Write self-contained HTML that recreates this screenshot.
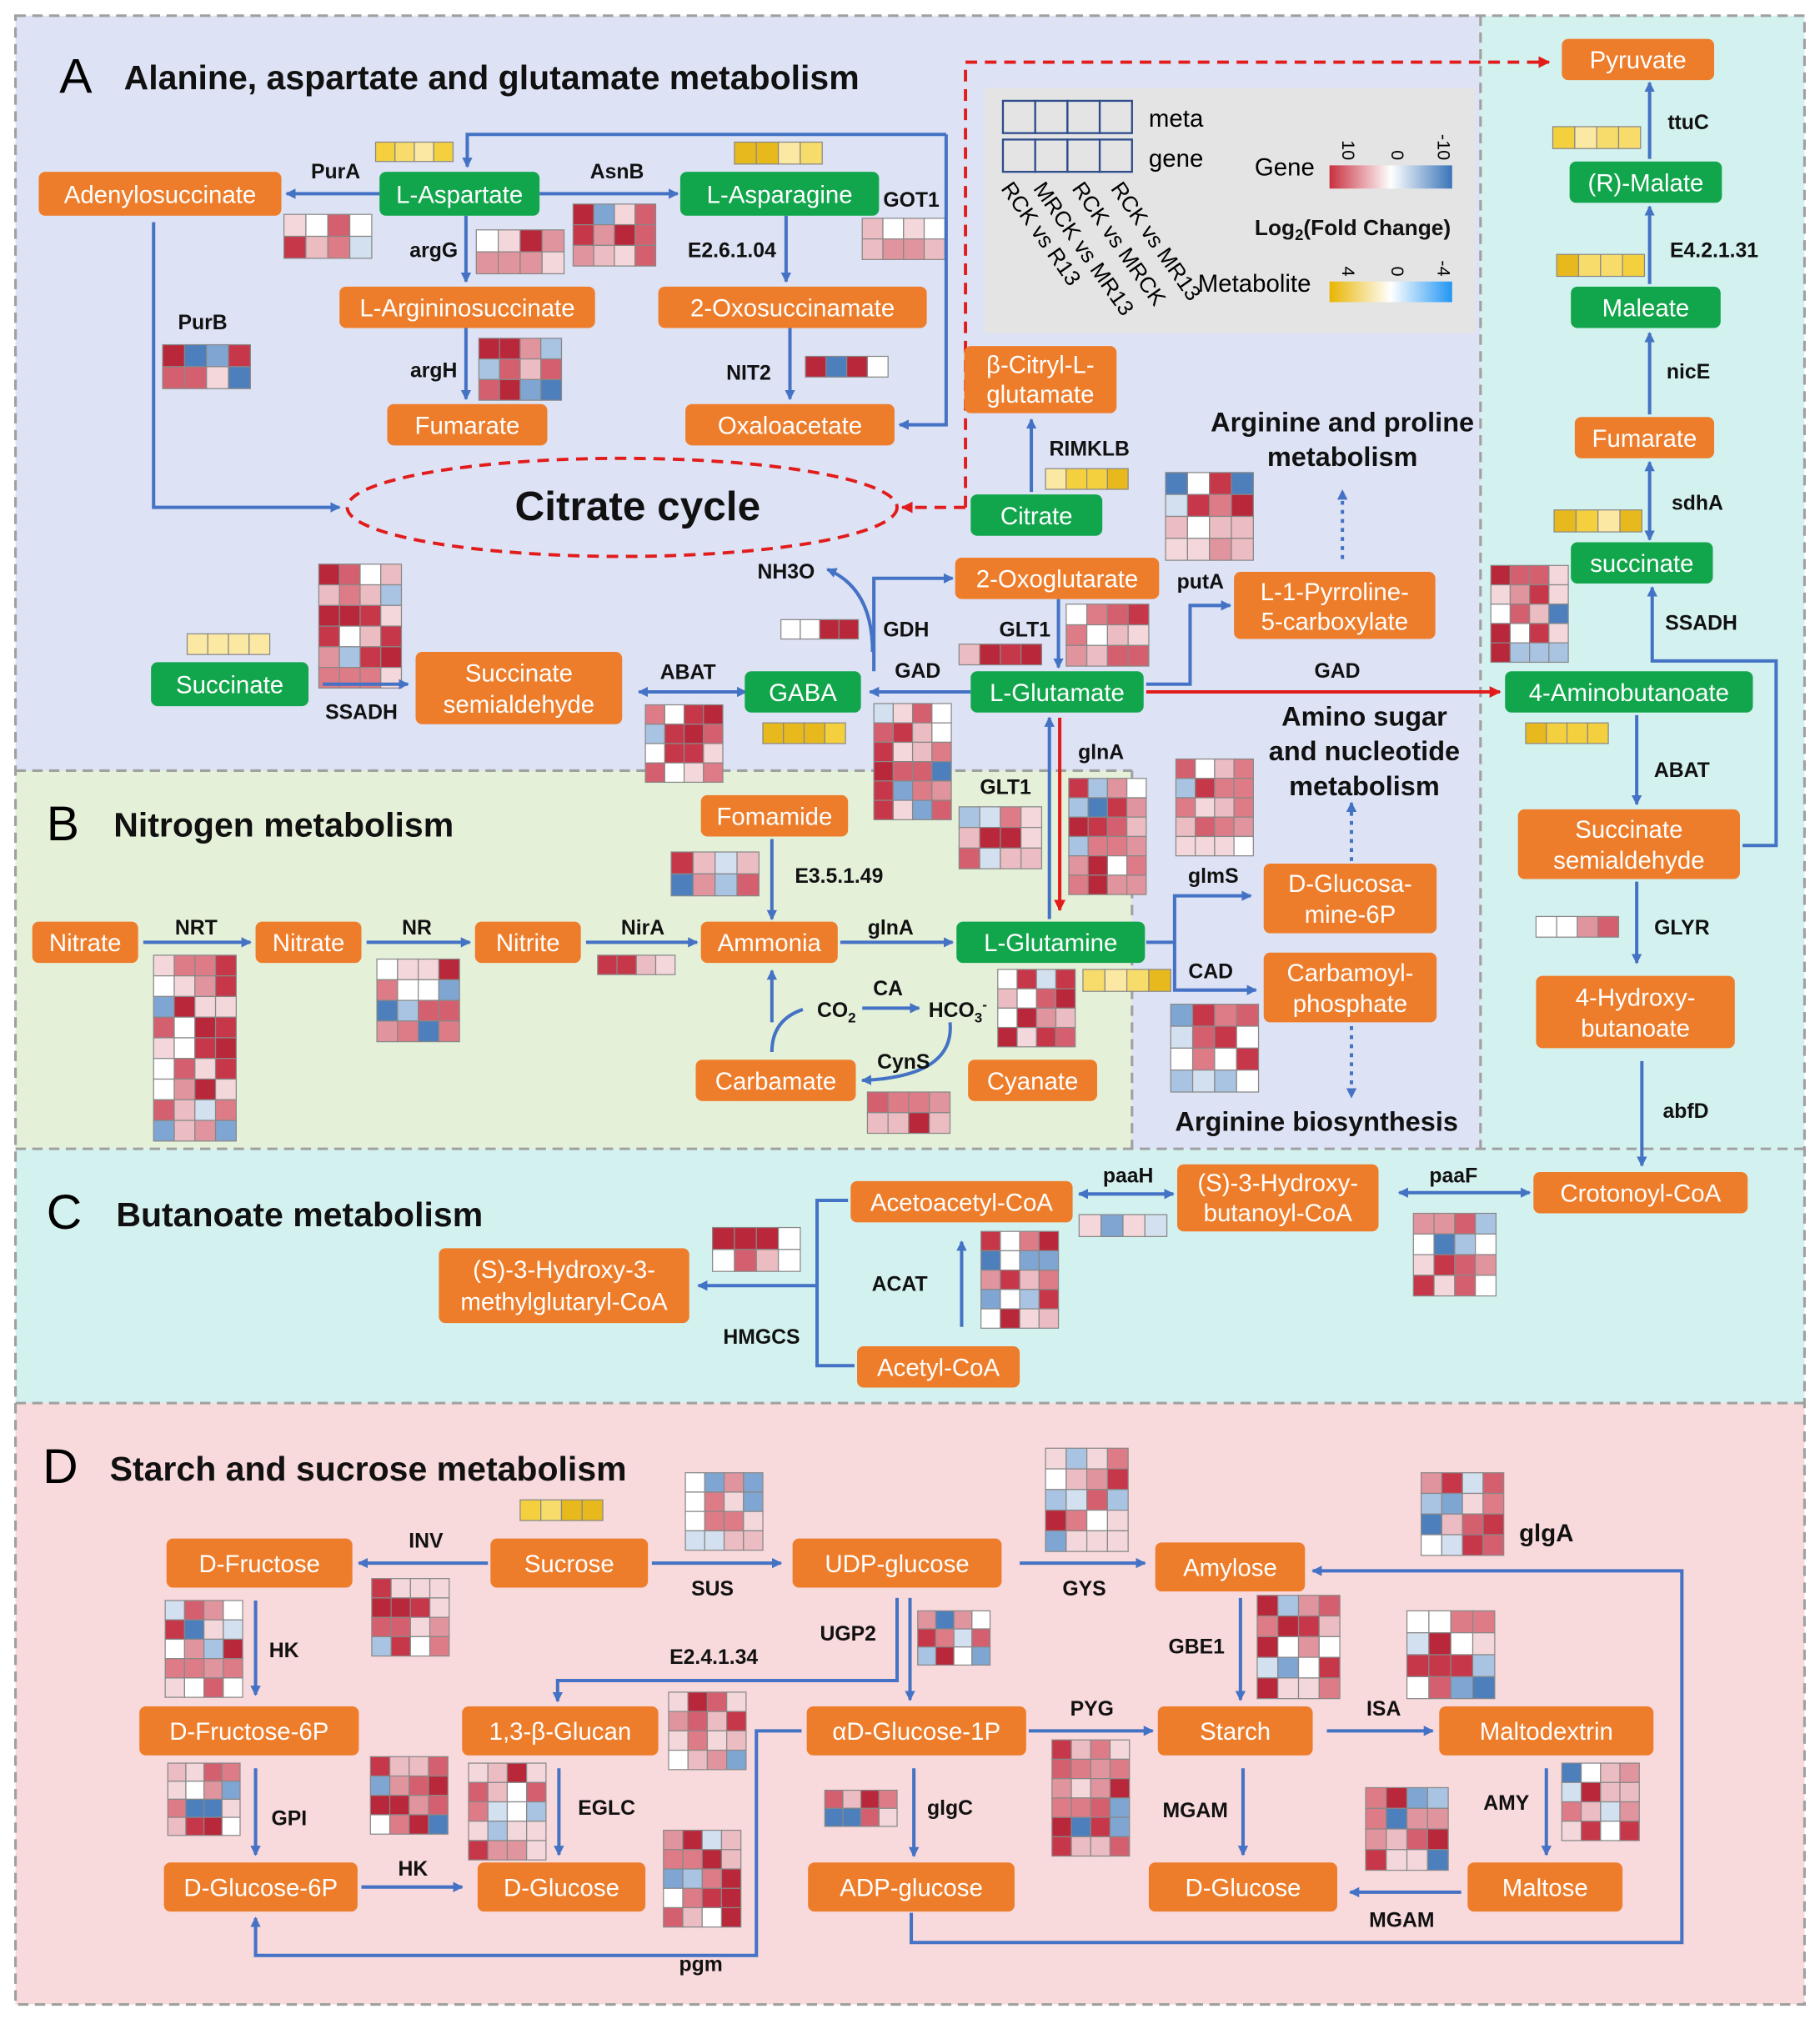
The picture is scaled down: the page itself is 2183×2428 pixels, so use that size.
<!DOCTYPE html>
<html><head><meta charset="utf-8"><style>
html,body{margin:0;padding:0;background:#fff}
svg{display:block}
text{font-family:"Liberation Sans",Arial,sans-serif}
.n text,.nt{fill:#fff;font-size:19px;text-anchor:middle}
.l{font-size:16px;font-weight:bold;fill:#111;text-anchor:middle}
.t{font-weight:bold;fill:#111}
.a{stroke:#4472c4;stroke-width:2.6;fill:none;marker-end:url(#ah)}
.b{stroke:#4472c4;stroke-width:2.6;fill:none}
</style></head><body>
<svg id="s" width="2183" height="2428" viewBox="0 0 1410 1568" xmlns="http://www.w3.org/2000/svg">
<defs>
<marker id="ah" markerWidth="8" markerHeight="8" refX="7" refY="4" orient="auto" markerUnits="userSpaceOnUse"><path d="M0,0 L8,4 L0,8 z" fill="#4472c4"/></marker>
<marker id="as" markerWidth="8" markerHeight="8" refX="1" refY="4" orient="auto" markerUnits="userSpaceOnUse"><path d="M8,0 L0,4 L8,8 z" fill="#4472c4"/></marker>
<marker id="ar" markerWidth="9" markerHeight="9" refX="8" refY="4.5" orient="auto" markerUnits="userSpaceOnUse"><path d="M0,0 L9,4.5 L0,9 z" fill="#e21b1b"/></marker>
<linearGradient id="gg" x1="0" x2="1"><stop offset="0" stop-color="#c8303f"/><stop offset=".5" stop-color="#fff"/><stop offset="1" stop-color="#3a74b8"/></linearGradient>
<linearGradient id="gm" x1="0" x2="1"><stop offset="0" stop-color="#e8b400"/><stop offset=".5" stop-color="#fff"/><stop offset="1" stop-color="#2196f3"/></linearGradient>
</defs>
<rect x="12" y="12" width="1386" height="1541" fill="#fff"/>
<rect x="12" y="12" width="1135" height="878" fill="#dde2f4"/>
<rect x="12" y="597" width="865" height="293" fill="#e4f0d8"/>
<rect x="1147" y="12" width="251" height="878" fill="#d3f1ef"/>
<rect x="12" y="890" width="1386" height="197" fill="#d3f1ef"/>
<rect x="12" y="1087" width="1386" height="466" fill="#f8d9dc"/>
<g stroke="#a0a0a0" stroke-width="2" stroke-dasharray="8,5" fill="none">
<rect x="12" y="12" width="1386" height="1541"/>
<line x1="12" y1="1087" x2="1398" y2="1087"/>
<line x1="12" y1="890" x2="1398" y2="890"/>
<line x1="1147" y1="12" x2="1147" y2="890"/>
<line x1="12" y1="597" x2="877" y2="597"/>
<line x1="877" y1="597" x2="877" y2="890"/>
</g>
<rect x="763" y="68" width="380" height="190" fill="#e4e4e4"/>
<g stroke="#2e4d8a" stroke-width="1.5" fill="#e4e4e4">
<rect x="777" y="78" width="25" height="25"/><rect x="802" y="78" width="25" height="25"/><rect x="827" y="78" width="25" height="25"/><rect x="852" y="78" width="25" height="25"/>
<rect x="777" y="108" width="25" height="25"/><rect x="802" y="108" width="25" height="25"/><rect x="827" y="108" width="25" height="25"/><rect x="852" y="108" width="25" height="25"/>
</g>
<text x="890" y="98" font-size="19">meta</text>
<text x="890" y="129" font-size="19">gene</text>
<g font-size="17">
<text transform="translate(775,146) rotate(55)">RCK vs R13</text>
<text transform="translate(800,146) rotate(55)">MRCK vs MR13</text>
<text transform="translate(830,146) rotate(55)">RCK vs MRCK</text>
<text transform="translate(860,146) rotate(55)">RCK vs MR13</text>
</g>
<text x="972" y="136" font-size="19">Gene</text>
<rect x="1030" y="128" width="95" height="18" fill="url(#gg)"/>
<g font-size="14"><text transform="translate(1040,124) rotate(90)" text-anchor="end">10</text><text transform="translate(1078,124) rotate(90)" text-anchor="end">0</text><text transform="translate(1114,124) rotate(90)" text-anchor="end">-10</text></g>
<text x="972" y="182" font-size="17" class="t">Log<tspan font-size="12" dy="4">2</tspan><tspan dy="-4">(Fold Change)</tspan></text>
<text x="928" y="226" font-size="19">Metabolite</text>
<rect x="1030" y="218" width="95" height="16" fill="url(#gm)"/>
<g font-size="14"><text transform="translate(1040,214) rotate(90)" text-anchor="end">4</text><text transform="translate(1078,214) rotate(90)" text-anchor="end">0</text><text transform="translate(1114,214) rotate(90)" text-anchor="end">-4</text></g>
<g id="hm"></g>
<text x="46" y="72" font-size="38">A</text><text x="96" y="69" font-size="26.5" class="t">Alanine, aspartate and glutamate metabolism</text>
<text x="36" y="651" font-size="38">B</text><text x="88" y="648" font-size="26.5" class="t">Nitrogen metabolism</text>
<text x="36" y="952" font-size="38">C</text><text x="90" y="950" font-size="26.5" class="t">Butanoate metabolism</text>
<text x="33" y="1149" font-size="38">D</text><text x="85" y="1147" font-size="26.5" class="t">Starch and sucrose metabolism</text>
<text x="494" y="403" font-size="32" class="t" text-anchor="middle">Citrate cycle</text>
<g font-size="21" class="t" text-anchor="middle">
<text x="1040" y="334">Arginine and proline</text><text x="1040" y="361">metabolism</text>
<text x="1057" y="562">Amino sugar</text><text x="1057" y="589">and nucleotide</text><text x="1057" y="616">metabolism</text>
<text x="1020" y="876">Arginine biosynthesis</text>
</g>
<ellipse cx="482" cy="393" rx="213" ry="38" fill="none" stroke="#e21b1b" stroke-width="2.5" stroke-dasharray="9,6"/>
<path d="M748,393 V48 H1200" fill="none" stroke="#e21b1b" stroke-width="2.5" stroke-dasharray="9,6" marker-end="url(#ar)"/>
<path d="M748,393 H699" fill="none" stroke="#e21b1b" stroke-width="2.5" stroke-dasharray="9,6" marker-end="url(#ar)"/>
<path d="M888,536 H1162" fill="none" stroke="#e21b1b" stroke-width="2.6" marker-end="url(#ar)"/>
<path d="M821,556 V705" fill="none" stroke="#e21b1b" stroke-width="2.6" marker-end="url(#ar)"/>
<path class="a" d="M294,150 H222"/><path class="a" d="M418,150 H525"/>
<path class="a" d="M361,167 V218"/><path class="a" d="M609,167 V218"/>
<path class="a" d="M361,254 V309"/><path class="a" d="M612,254 V309"/>
<path class="a" d="M119,172 V393 H263"/>
<path class="a" d="M733,104 V329 H697"/><path class="a" d="M733,104 H362 V129"/>
<path class="a" d="M799,381 V325"/>
<path class="b" d="M578,536 H495" marker-end="url(#ah)" marker-start="url(#as)"/>
<path class="a" d="M250,530 H316"/>
<path class="a" d="M752,536 H674"/>
<path class="a" d="M677,520 V448 H738"/>
<path class="a" d="M676,505 Q676,456 641,441"/>
<path class="a" d="M820,464 V517"/>
<path class="a" d="M888,530 H922 V469 H953"/>
<path class="a" d="M1040,433 V380" stroke-dasharray="3,4"/>
<path class="a" d="M813,712 V556"/>
<path class="a" d="M888,730 H910 V694 H969"/><path class="a" d="M910,730 V767 H973"/>
<path class="a" d="M1047,667 V622" stroke-dasharray="3,4"/><path class="a" d="M1047,795 V850" stroke-dasharray="3,4"/>
<path class="b" d="M1278,418 V358" marker-end="url(#ah)" marker-start="url(#as)"/>
<path class="a" d="M1278,321 V258"/><path class="a" d="M1278,220 V160"/><path class="a" d="M1278,123 V64"/>
<path class="a" d="M1268,554 V623"/>
<path class="a" d="M1350,655 H1376 V512 H1280 V455"/>
<path class="a" d="M1268,683 V746"/><path class="a" d="M1272,822 V903"/>
<path class="b" d="M1185,924 H1084" marker-end="url(#ah)" marker-start="url(#as)"/>
<path class="b" d="M909,925 H836" marker-end="url(#ah)" marker-start="url(#as)"/>
<path class="a" d="M745,1028 V962"/>
<path class="b" d="M657,930 H633 V1058 H662"/><path class="a" d="M633,996 H541"/>
<path class="a" d="M111,730 H194"/><path class="a" d="M284,730 H364"/><path class="a" d="M454,730 H540"/>
<path class="a" d="M598,650 V712"/><path class="a" d="M651,730 H738"/>
<path class="a" d="M668,781 H712"/>
<path class="b" d="M622,782 Q598,790 598,815"/><path class="a" d="M598,792 V752"/>
<path class="a" d="M736,792 Q740,834 668,837"/>
<path class="a" d="M378,1211 H278"/><path class="a" d="M505,1211 H605"/><path class="a" d="M790,1211 H887"/>
<path class="a" d="M198,1240 V1313"/><path class="a" d="M198,1370 V1437"/><path class="a" d="M280,1462 H358"/>
<path class="a" d="M433,1370 V1437"/>
<path class="a" d="M695,1238 V1302 H432 V1318"/><path class="a" d="M705,1238 V1317"/>
<path class="a" d="M708,1370 V1438"/><path class="a" d="M797,1341 H893"/>
<path class="a" d="M961,1238 V1317"/><path class="a" d="M1028,1341 H1110"/>
<path class="a" d="M963,1370 V1437"/><path class="a" d="M1198,1370 V1437"/><path class="a" d="M1132,1466 H1046"/>
<path class="a" d="M706,1482 V1505 H1303 V1217 H1017"/>
<path class="a" d="M621,1341 H586 V1515 H198 V1486"/>
<g class="l">
<text x="260" y="138">PurA</text><text x="478" y="138">AsnB</text><text x="336" y="199">argG</text><text x="567" y="199">E2.6.1.04</text>
<text x="706" y="160">GOT1</text><text x="157" y="255">PurB</text><text x="336" y="292">argH</text><text x="580" y="294">NIT2</text>
<text x="844" y="353">RIMKLB</text><text x="609" y="448">NH3O</text><text x="702" y="493">GDH</text><text x="711" y="525">GAD</text>
<text x="794" y="493">GLT1</text><text x="930" y="456">putA</text><text x="1036" y="525">GAD</text><text x="533" y="526">ABAT</text>
<text x="280" y="557">SSADH</text><text x="853" y="588">glnA</text><text x="779" y="615">GLT1</text><text x="940" y="684">glmS</text><text x="938" y="758">CAD</text>
<text x="1308" y="100">ttuC</text><text x="1328" y="199">E4.2.1.31</text><text x="1308" y="293">nicE</text><text x="1315" y="395">sdhA</text>
<text x="1318" y="488">SSADH</text><text x="1303" y="602">ABAT</text><text x="1303" y="724">GLYR</text><text x="1306" y="866">abfD</text>
<text x="1126" y="916">paaF</text><text x="874" y="916">paaH</text><text x="697" y="1000">ACAT</text><text x="590" y="1041">HMGCS</text>
<text x="152" y="724">NRT</text><text x="323" y="724">NR</text><text x="498" y="724">NirA</text><text x="650" y="684">E3.5.1.49</text>
<text x="690" y="724">glnA</text><text x="688" y="771">CA</text><text x="700" y="828">CynS</text>
<text x="330" y="1199">INV</text><text x="552" y="1236">SUS</text><text x="840" y="1236">GYS</text><text x="220" y="1284">HK</text>
<text x="224" y="1414">GPI</text><text x="320" y="1453">HK</text><text x="470" y="1406">EGLC</text><text x="553" y="1289">E2.4.1.34</text>
<text x="657" y="1271">UGP2</text><text x="736" y="1406">glgC</text><text x="846" y="1329">PYG</text><text x="927" y="1281">GBE1</text>
<text x="1072" y="1329">ISA</text><text x="926" y="1408">MGAM</text><text x="1167" y="1402">AMY</text><text x="1086" y="1493">MGAM</text>
<text x="543" y="1527">pgm</text><text x="1198" y="1194" font-size="19">glgA</text>
<text x="648" y="788">CO<tspan font-size="11" dy="4">2</tspan></text><text x="742" y="788">HCO<tspan font-size="11" dy="4">3</tspan><tspan font-size="11" dy="-10">-</tspan></text>
</g>
<g class="n">
<rect x="30" y="133" width="188" height="34" rx="5" fill="#ee7d2b"/><text x="124" y="157">Adenylosuccinate</text>
<rect x="294" y="133" width="124" height="34" rx="5" fill="#12a64c"/><text x="356" y="157">L-Aspartate</text>
<rect x="527" y="133" width="154" height="34" rx="5" fill="#12a64c"/><text x="604" y="157">L-Asparagine</text>
<rect x="263" y="222" width="198" height="32" rx="5" fill="#ee7d2b"/><text x="362" y="245">L-Argininosuccinate</text>
<rect x="510" y="222" width="208" height="32" rx="5" fill="#ee7d2b"/><text x="614" y="245">2-Oxosuccinamate</text>
<rect x="300" y="313" width="124" height="32" rx="5" fill="#ee7d2b"/><text x="362" y="336">Fumarate</text>
<rect x="531" y="313" width="162" height="32" rx="5" fill="#ee7d2b"/><text x="612" y="336">Oxaloacetate</text>
<rect x="747" y="268" width="118" height="52" rx="5" fill="#ee7d2b"/><text x="806" y="289">β-Citryl-L-</text><text x="806" y="312">glutamate</text>
<rect x="752" y="383" width="102" height="32" rx="5" fill="#12a64c"/><text x="803" y="406">Citrate</text>
<rect x="740" y="432" width="158" height="32" rx="5" fill="#ee7d2b"/><text x="819" y="455">2-Oxoglutarate</text>
<rect x="956" y="443" width="156" height="52" rx="5" fill="#ee7d2b"/><text x="1034" y="465">L-1-Pyrroline-</text><text x="1034" y="488">5-carboxylate</text>
<rect x="117" y="513" width="122" height="34" rx="5" fill="#12a64c"/><text x="178" y="537">Succinate</text>
<rect x="322" y="505" width="160" height="56" rx="5" fill="#ee7d2b"/><text x="402" y="528">Succinate</text><text x="402" y="552">semialdehyde</text>
<rect x="577" y="520" width="90" height="32" rx="5" fill="#12a64c"/><text x="622" y="543">GABA</text>
<rect x="752" y="520" width="134" height="32" rx="5" fill="#12a64c"/><text x="819" y="543">L-Glutamate</text>
<rect x="1166" y="520" width="192" height="32" rx="5" fill="#12a64c"/><text x="1262" y="543">4-Aminobutanoate</text>
<rect x="1210" y="30" width="118" height="32" rx="5" fill="#ee7d2b"/><text x="1269" y="53">Pyruvate</text>
<rect x="1216" y="125" width="118" height="32" rx="5" fill="#12a64c"/><text x="1275" y="148">(R)-Malate</text>
<rect x="1217" y="222" width="116" height="32" rx="5" fill="#12a64c"/><text x="1275" y="245">Maleate</text>
<rect x="1220" y="323" width="108" height="32" rx="5" fill="#ee7d2b"/><text x="1274" y="346">Fumarate</text>
<rect x="1217" y="420" width="110" height="32" rx="5" fill="#12a64c"/><text x="1272" y="443">succinate</text>
<rect x="1176" y="627" width="172" height="54" rx="5" fill="#ee7d2b"/><text x="1262" y="649">Succinate</text><text x="1262" y="673">semialdehyde</text>
<rect x="1190" y="756" width="154" height="56" rx="5" fill="#ee7d2b"/><text x="1267" y="779">4-Hydroxy-</text><text x="1267" y="803">butanoate</text>
<rect x="1188" y="908" width="166" height="32" rx="5" fill="#ee7d2b"/><text x="1271" y="931">Crotonoyl-CoA</text>
<rect x="25" y="714" width="82" height="32" rx="5" fill="#ee7d2b"/><text x="66" y="737">Nitrate</text>
<rect x="198" y="714" width="82" height="32" rx="5" fill="#ee7d2b"/><text x="239" y="737">Nitrate</text>
<rect x="368" y="714" width="82" height="32" rx="5" fill="#ee7d2b"/><text x="409" y="737">Nitrite</text>
<rect x="543" y="616" width="114" height="32" rx="5" fill="#ee7d2b"/><text x="600" y="639">Fomamide</text>
<rect x="543" y="714" width="106" height="32" rx="5" fill="#ee7d2b"/><text x="596" y="737">Ammonia</text>
<rect x="741" y="714" width="146" height="32" rx="5" fill="#12a64c"/><text x="814" y="737">L-Glutamine</text>
<rect x="979" y="669" width="134" height="54" rx="5" fill="#ee7d2b"/><text x="1046" y="691">D-Glucosa-</text><text x="1046" y="715">mine-6P</text>
<rect x="979" y="738" width="134" height="54" rx="5" fill="#ee7d2b"/><text x="1046" y="760">Carbamoyl-</text><text x="1046" y="784">phosphate</text>
<rect x="539" y="821" width="124" height="32" rx="5" fill="#ee7d2b"/><text x="601" y="844">Carbamate</text>
<rect x="750" y="821" width="100" height="32" rx="5" fill="#ee7d2b"/><text x="800" y="844">Cyanate</text>
<rect x="659" y="915" width="172" height="32" rx="5" fill="#ee7d2b"/><text x="745" y="938">Acetoacetyl-CoA</text>
<rect x="912" y="902" width="156" height="52" rx="5" fill="#ee7d2b"/><text x="990" y="923">(S)-3-Hydroxy-</text><text x="990" y="946">butanoyl-CoA</text>
<rect x="340" y="967" width="194" height="58" rx="5" fill="#ee7d2b"/><text x="437" y="990">(S)-3-Hydroxy-3-</text><text x="437" y="1015">methylglutaryl-CoA</text>
<rect x="664" y="1043" width="126" height="32" rx="5" fill="#ee7d2b"/><text x="727" y="1066">Acetyl-CoA</text>
<rect x="129" y="1192" width="144" height="38" rx="5" fill="#ee7d2b"/><text x="201" y="1218">D-Fructose</text>
<rect x="380" y="1192" width="122" height="38" rx="5" fill="#ee7d2b"/><text x="441" y="1218">Sucrose</text>
<rect x="614" y="1192" width="162" height="38" rx="5" fill="#ee7d2b"/><text x="695" y="1218">UDP-glucose</text>
<rect x="895" y="1195" width="116" height="38" rx="5" fill="#ee7d2b"/><text x="953" y="1221">Amylose</text>
<rect x="108" y="1322" width="170" height="38" rx="5" fill="#ee7d2b"/><text x="193" y="1348">D-Fructose-6P</text>
<rect x="358" y="1322" width="152" height="38" rx="5" fill="#ee7d2b"/><text x="434" y="1348">1,3-β-Glucan</text>
<rect x="625" y="1322" width="170" height="38" rx="5" fill="#ee7d2b"/><text x="710" y="1348">αD-Glucose-1P</text>
<rect x="897" y="1322" width="120" height="38" rx="5" fill="#ee7d2b"/><text x="957" y="1348">Starch</text>
<rect x="1115" y="1322" width="166" height="38" rx="5" fill="#ee7d2b"/><text x="1198" y="1348">Maltodextrin</text>
<rect x="127" y="1443" width="150" height="38" rx="5" fill="#ee7d2b"/><text x="202" y="1469">D-Glucose-6P</text>
<rect x="370" y="1443" width="130" height="38" rx="5" fill="#ee7d2b"/><text x="435" y="1469">D-Glucose</text>
<rect x="626" y="1443" width="160" height="38" rx="5" fill="#ee7d2b"/><text x="706" y="1469">ADP-glucose</text>
<rect x="890" y="1443" width="146" height="38" rx="5" fill="#ee7d2b"/><text x="963" y="1469">D-Glucose</text>
<rect x="1137" y="1443" width="120" height="38" rx="5" fill="#ee7d2b"/><text x="1197" y="1469">Maltose</text>
</g>
</svg>
<script>
(function(){
var seed=7;function r(){seed=(seed*16807)%2147483647;return (seed-1)/2147483646;}
var reds=['#c7374a','#d4606f','#e0949d','#ebbcc2','#f3d7db','#ffffff','#dd7c87','#b9273a'];
var blues=['#a9c4e2','#7fa6d3','#d3e0ef','#4e7fbd'];
var yel=['#f4d03f','#fbe8a2','#e8b91c','#f7dc6b'];
function hm(x,y,c,rw,cs,type){
 var s='';
 for(var i=0;i<rw;i++)for(var j=0;j<c;j++){
  var col;
  if(type=='y'){col=yel[Math.floor(r()*yel.length)];}
  else{var q=r();col=q<0.15?blues[Math.floor(r()*4)]:reds[Math.floor(r()*reds.length)];}
  s+='<rect x="'+(x+j*cs)+'" y="'+(y+i*cs)+'" width="'+cs+'" height="'+cs+'" fill="'+col+'" stroke="#888" stroke-width="0.8"/>';
 }
 return s;
}
var L=[
[291,110,4,1,15,'y'],[569,110,4,1,17,'y'],[220,166,4,2,17],[369,178,4,2,17],[444,158,4,3,16],[668,169,4,2,16],
[126,267,4,2,17],[371,262,4,3,16],[624,276,4,1,16],[810,363,4,1,16,'y'],[903,366,4,4,17],
[1203,98,4,1,17,'y'],[1206,197,4,1,17,'y'],[1204,395,4,1,17,'y'],[1155,438,4,5,15],
[247,437,4,6,16],[145,491,4,1,16,'y'],[605,480,4,1,15],[743,499,4,1,16],[826,468,4,3,16],
[500,546,4,4,15],[591,560,4,1,16,'y'],[677,545,4,6,15],[743,625,4,3,16],[828,603,4,6,15],[911,588,4,5,15],
[1182,560,4,1,16,'y'],[1190,710,4,1,16],
[520,660,4,2,17],[119,740,4,9,16],[292,743,4,4,16],[463,740,4,1,15],[773,751,4,4,15],[839,751,4,1,17,'y'],[907,778,4,4,17],[672,846,4,2,16],
[552,951,4,2,17],[836,941,4,1,17],[760,954,4,5,15],[1095,940,4,4,16],
[403,1162,4,1,16,'y'],[531,1141,4,4,15],[810,1122,4,5,16],[1101,1141,4,4,16],[288,1223,4,4,15],[128,1240,4,5,15],
[711,1248,4,3,14],[974,1236,4,5,16],[1090,1248,4,4,17],[518,1311,4,4,15],[130,1366,4,4,14],[287,1361,4,4,15],
[363,1366,4,5,15],[639,1387,4,2,14],[815,1348,4,6,15],[1210,1366,4,4,15],[1058,1385,4,4,16],[514,1418,4,5,15]
];
var out='';L.forEach(function(a){out+=hm(a[0],a[1],a[2],a[3],a[4],a[5]);});
document.getElementById('hm').innerHTML=out;
})();
</script>
</body></html>
